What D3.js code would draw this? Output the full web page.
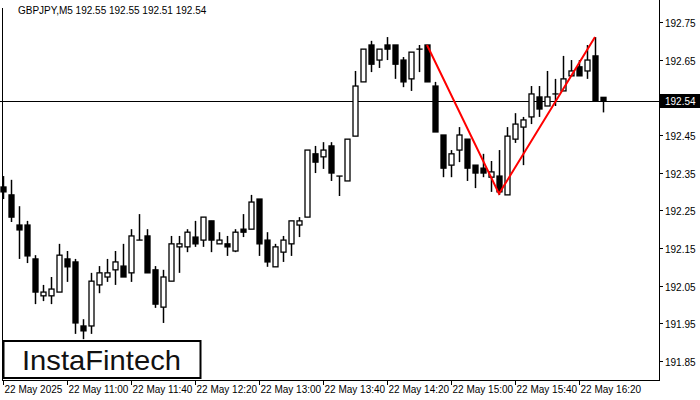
<!DOCTYPE html>
<html>
<head>
<meta charset="utf-8">
<script src="https://cdn.jsdelivr.net/npm/d3@7"></script>
<style>
body { margin: 0; background: #fff; }
text { font-family: "Liberation Sans", Arial, sans-serif; }
</style>
</head>
<body>
<svg id="chart" width="700" height="400"></svg>
<script>
// candles, oldest first: open, high, low, close
const opens  = [192.312,192.291,192.211,192.211,192.121,192.023,192.023,192.033,192.121,192.113,191.943,191.943,192.052,192.073,192.092,192.102,192.084,192.171,192.182,192.092,191.993,192.062,192.153,192.153,192.179,192.171,192.222,192.161,192.161,192.142,192.200,192.200,192.280,192.171,192.100,192.139,192.161,192.211,192.232,192.400,192.392,192.421,192.341,192.328,192.447,192.591,192.689,192.649,192.689,192.689,192.649,192.599,192.678,192.689,192.580,192.450,192.370,192.410,192.439,192.370,192.362,192.338,192.341,192.291,192.439,192.471,192.498,192.551,192.527,192.559,192.567,192.607,192.631,192.620,192.660,192.55];
const highs  = [192.341,192.331,192.261,192.222,192.131,192.052,192.073,192.161,192.142,192.121,191.961,192.084,192.102,192.121,192.142,192.161,192.200,192.240,192.200,192.102,192.092,192.182,192.182,192.200,192.222,192.232,192.222,192.192,192.182,192.200,192.240,192.291,192.280,192.192,192.161,192.182,192.222,192.232,192.410,192.421,192.431,192.431,192.341,192.439,192.620,192.678,192.700,192.678,192.710,192.689,192.657,192.670,192.689,192.689,192.591,192.450,192.410,192.471,192.439,192.370,192.400,192.381,192.410,192.471,192.508,192.498,192.580,192.580,192.620,192.599,192.660,192.649,192.649,192.689,192.710,192.55];
const lows   = [192.280,192.219,192.121,192.110,192.001,192.009,192.001,192.033,192.060,191.922,191.908,191.922,192.030,192.060,192.052,192.073,192.060,192.171,192.084,191.991,191.951,192.062,192.084,192.139,192.153,192.153,192.139,192.161,192.129,192.139,192.179,192.200,192.129,192.100,192.100,192.113,192.129,192.179,192.232,192.349,192.360,192.328,192.288,192.328,192.447,192.591,192.617,192.628,192.649,192.599,192.577,192.567,192.617,192.591,192.458,192.338,192.338,192.378,192.328,192.309,192.338,192.299,192.291,192.291,192.429,192.370,192.479,192.498,192.527,192.527,192.567,192.607,192.607,192.599,192.540,192.51];
const closes = [192.299,192.232,192.198,192.129,192.033,192.033,192.041,192.131,192.100,191.951,191.930,192.062,192.084,192.084,192.113,192.073,192.182,192.171,192.084,192.001,192.073,192.161,192.161,192.192,192.161,192.232,192.171,192.171,192.153,192.192,192.192,192.272,192.161,192.113,192.153,192.171,192.222,192.222,192.410,192.378,192.410,192.349,192.341,192.439,192.580,192.678,192.638,192.678,192.678,192.638,192.591,192.670,192.678,192.591,192.458,192.362,192.400,192.450,192.362,192.349,192.349,192.352,192.299,192.447,192.479,192.490,192.559,192.519,192.551,192.559,192.599,192.620,192.607,192.649,192.540,192.54];

const priceTicks = [192.75,192.65,192.55,192.45,192.35,192.25,192.15,192.05,191.95,191.85];
const timeTicks = [0,8,16,24,32,40,48,56,64,72];
const timeLabels = ["22 May 2025","22 May 11:00","22 May 11:40","22 May 12:20","22 May 13:00","22 May 13:40","22 May 14:20","22 May 15:00","22 May 15:40","22 May 16:20"];
// double top pattern: [candle index, price]
const pattern = [[53,192.689],[62,192.294],[74,192.710]];
const lastPrice = 192.54;

const svg = d3.select('#chart');
const plotRight = 659, plotBottom = 380;

const x = d3.scaleLinear().domain([0, 75]).range([3, 603]);
const y = d3.scaleLinear().domain([191.85, 192.75]).range([361, 22]);

const candles = opens.map((o, i) => ({i, o, h: highs[i], l: lows[i], c: closes[i]}));

// frame
svg.append('line').attr('x1', 2.5).attr('x2', 2.5).attr('y1', 8).attr('y2', plotBottom).attr('stroke', '#000');
svg.append('line').attr('x1', plotRight + 0.5).attr('x2', plotRight + 0.5).attr('y1', 0).attr('y2', plotBottom).attr('stroke', '#000');
svg.append('line').attr('x1', 2).attr('x2', plotRight + 1).attr('y1', plotBottom + 0.5).attr('y2', plotBottom + 0.5).attr('stroke', '#000');

// current price line
svg.append('line').attr('x1', 0).attr('x2', plotRight)
  .attr('y1', Math.round(y(lastPrice)) + 0.5).attr('y2', Math.round(y(lastPrice)) + 0.5)
  .attr('stroke', '#000');

const g = svg.append('g');
const cg = g.selectAll('g.c').data(candles).enter().append('g');
cg.append('line')
  .attr('x1', d => Math.round(x(d.i)) + 0.5).attr('x2', d => Math.round(x(d.i)) + 0.5)
  .attr('y1', d => y(d.h)).attr('y2', d => y(d.l))
  .attr('stroke', '#000').attr('stroke-width', 1.5);
cg.append('rect')
  .attr('x', d => Math.round(x(d.i)) - 2)
  .attr('y', d => y(Math.max(d.o, d.c)))
  .attr('width', 5)
  .attr('height', d => Math.max(0.01, Math.abs(y(d.o) - y(d.c))))
  .attr('fill', d => d.c < d.o ? '#000' : '#fff')
  .attr('stroke', '#000').attr('stroke-width', 1.3);

// pattern line
svg.append('path')
  .attr('d', d3.line().x(d => x(d[0])).y(d => y(d[1]))(pattern))
  .attr('fill', 'none').attr('stroke', '#ff0000').attr('stroke-width', 2);

// right axis (the tick label hidden under the price box is skipped)
const ly = Math.round(y(lastPrice));
priceTicks.forEach(p => {
  const yy = Math.round(y(p)) + 0.5;
  svg.append('line').attr('x1', plotRight).attr('x2', plotRight + 4).attr('y1', yy).attr('y2', yy).attr('stroke', '#000');
  if (Math.abs(yy - ly) > 12)
    svg.append('text').attr('x', 665).attr('y', yy + 4).attr('font-size', 10).text(p.toFixed(2));
});
svg.append('rect').attr('x', plotRight + 1).attr('y', ly - 7).attr('width', 41).attr('height', 14).attr('fill', '#000');
svg.append('text').attr('x', 665).attr('y', ly + 4).attr('font-size', 10).attr('fill', '#fff').text(lastPrice.toFixed(2));

// bottom axis
timeTicks.forEach((t, k) => {
  const xx = Math.round(x(t)) + 0.5;
  svg.append('line').attr('x1', xx).attr('x2', xx).attr('y1', plotBottom).attr('y2', plotBottom + 5).attr('stroke', '#000');
  svg.append('text').attr('x', xx + 1).attr('y', 393).attr('font-size', 10).text(timeLabels[k]);
});

// header
svg.append('text').attr('x', 18).attr('y', 14).attr('font-size', 10).text('GBPJPY,M5  192.55 192.55 192.51 192.54');

// logo
svg.append('rect').attr('x', 3.5).attr('y', 341).attr('width', 197).attr('height', 37).attr('fill', '#fff').attr('stroke', '#000').attr('stroke-width', 2);
svg.append('text').attr('x', 22).attr('y', 370).attr('font-size', 28).attr('font-family', 'Inter, "Noto Sans", sans-serif')
  .attr('font-weight', 500).attr('fill', '#111')
  .attr('textLength', 159).attr('lengthAdjust', 'spacingAndGlyphs').text('InstaFintech');
</script>
</body>
</html>
